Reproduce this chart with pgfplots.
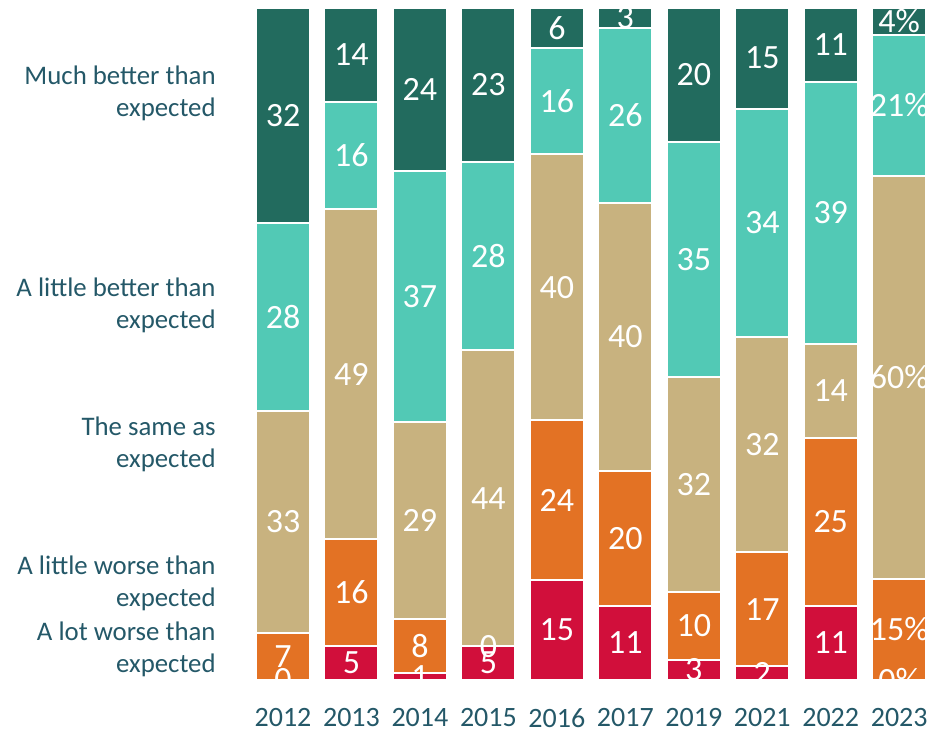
\documentclass[border=0pt]{standalone}
\usepackage{pgfplots}
\pgfplotsset{compat=1.18}
\usepackage{pgfplotstable}
\usepackage{fontspec}
\setmainfont{Carlito}

\definecolor{cRed}{HTML}{D10F3B}
\definecolor{cOrange}{HTML}{E37224}
\definecolor{cTan}{HTML}{C8B27F}
\definecolor{cLight}{HTML}{52C9B5}
\definecolor{cDark}{HTML}{226B5E}
\definecolor{cText}{HTML}{245868}

% a1..a5 = bar heights scaled to 100 (zeros kept as a hair so their labels show), l1..l5 = printed values
\pgfplotstableread{
x year a1 a2 a3 a4 a5 l1 l2 l3 l4 l5
0 2012 0.001 7 33 28 31.999 0 7 33 28 32
1 2013 5 16 49 16 14 5 16 49 16 14
2 2014 1.01 8.08 29.29 37.37 24.24 1 8 29 37 24
3 2015 5 0.001 44 28 22.999 5 0 44 28 23
4 2016 14.85 23.76 39.60 15.84 5.94 15 24 40 16 6
5 2017 11 20 40 26 3 11 20 40 26 3
6 2019 3 10 32 35 20 3 10 32 35 20
7 2021 2 17 32 34 15 2 17 32 34 15
8 2022 11 25 14 39 11 11 25 14 39 11
9 2023 0.001 15 60 21 3.999 0 15 60 21 4
}\data

\begin{document}
\begin{tikzpicture}
\begin{axis}[
    scale only axis,
    width=337.5pt, height=336pt,
    ybar stacked, bar width=27pt,
    xmin=-0.409, xmax=9.45, ymin=0, ymax=100,
    axis line style={draw=none},
    major tick length=0pt,
    ytick=\empty,
    xtick={0,...,9},
    xticklabels={2012,2013,2014,2015,2016,2017,2019,2021,2022,2023},
    xticklabel style={font=\fontsize{14}{14}\selectfont, text=cText, anchor=center, yshift=-19pt},
    clip=true,
    point meta=explicit,
    /pgf/number format/assume math mode=true,
    visualization depends on={\thisrow{x} \as \myx},
    nodes near coords={\pgfmathprintnumber{\pgfplotspointmeta}\ifdim\myx pt>8.5pt\relax\%\fi},
    every node near coord/.append style={font=\fontsize{17}{17}\selectfont, text=white},
    every axis plot/.append style={draw=white, line width=1pt},
]
\addplot[fill=cRed] table[x=x, y=a1, meta=l1] {\data};
\addplot[fill=cOrange] table[x=x, y=a2, meta=l2] {\data};
\addplot[fill=cTan] table[x=x, y=a3, meta=l3] {\data};
\addplot[fill=cLight] table[x=x, y=a4, meta=l4] {\data};
\addplot[fill=cDark] table[x=x, y=a5, meta=l5] {\data};
\coordinate (O) at (rel axis cs:0,0);
\coordinate (m5) at (axis cs:-0.409,87.2);
\coordinate (m4) at (axis cs:-0.409,55.65);
\coordinate (m3) at (axis cs:-0.409,34.97);
\coordinate (m2) at (axis cs:-0.409,14.29);
\coordinate (m1) at (axis cs:-0.409,4.46);
\end{axis}
\begin{scope}[every node/.style={anchor=east, align=right, inner sep=0pt, text=cText, font=\fontsize{13.4}{16}\selectfont}]
\node at ([xshift=-19.5pt]m5) {Much better than\\expected};
\node at ([xshift=-19.5pt]m4) {A little better than\\expected};
\node at ([xshift=-19.5pt]m3) {The same as\\expected};
\node at ([xshift=-19.5pt]m2) {A little worse than\\expected};
\node at ([xshift=-19.5pt]m1) {A lot worse than\\expected};
\end{scope}
\path (O) ++(-127.5pt,-27pt) rectangle ++(472pt,365.5pt);
\end{tikzpicture}
\end{document}
